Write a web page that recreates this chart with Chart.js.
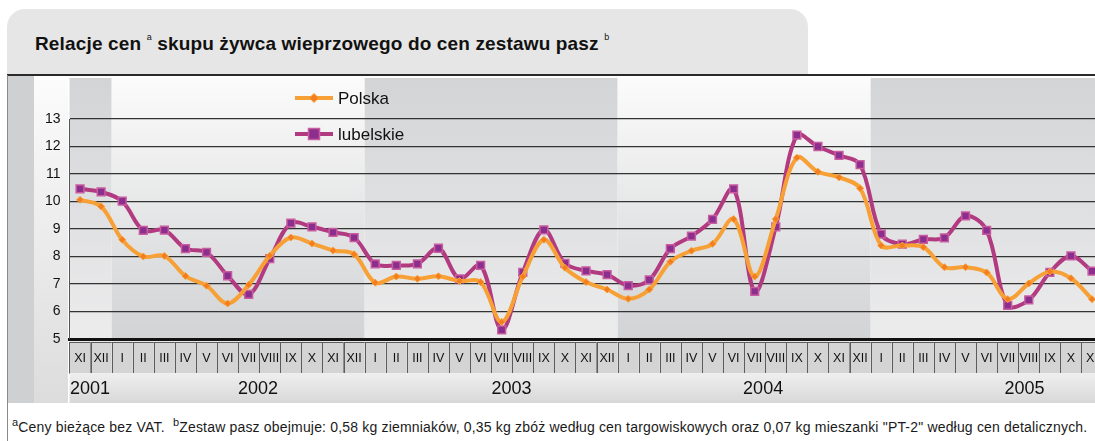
<!DOCTYPE html>
<html><head><meta charset="utf-8">
<script src="https://cdn.jsdelivr.net/npm/chart.js@4.4.0/dist/chart.umd.min.js"></script>
<style>
html,body{margin:0;padding:0;background:#fff;}
body{width:1095px;height:441px;overflow:hidden;position:relative;font-family:Arial,"Liberation Sans",sans-serif;color:#111;}
#titlebox{position:absolute;left:7px;top:9px;width:801px;height:66px;background:#e6e6e6;border-radius:18px 18px 0 0;}
#title{position:absolute;left:35px;top:32px;font-weight:bold;font-size:19px;letter-spacing:0.15px;white-space:nowrap;color:#111;}
#title sup{font-size:9px;font-weight:normal;vertical-align:10px;}
#topline{position:absolute;left:7px;top:74px;width:1100px;height:0;border-top:2px solid #2a2a2a;}
#leftline{position:absolute;left:7px;top:75px;height:366px;border-left:1px solid #8a8a8a;}
#wrap{position:absolute;left:0;top:76px;width:1110px;height:330px;}
#foot{position:absolute;left:12px;top:416px;font-size:14px;letter-spacing:0.18px;white-space:nowrap;color:#1a1a1a;}
#foot sup{font-size:11px;vertical-align:6px;}
</style>
</head><body>
<div id="titlebox"></div>
<div id="title">Relacje cen <sup>a</sup> skupu żywca wieprzowego do cen zestawu pasz <sup>b</sup></div>
<div id="topline"></div>
<div id="leftline"></div>
<div id="wrap"><canvas id="c" width="1110" height="330"></canvas></div>
<div id="foot"><sup>a</sup>Ceny bieżące bez VAT. &nbsp;<sup>b</sup>Zestaw pasz obejmuje: 0,58 kg ziemniaków, 0,35 kg zbóż według cen targowiskowych oraz 0,07 kg mieszanki "PT-2" według cen detalicznych.</div>
<script>
const monthLabels = ['XI','XII',
 'I','II','III','IV','V','VI','VII','VIII','IX','X','XI','XII',
 'I','II','III','IV','V','VI','VII','VIII','IX','X','XI','XII',
 'I','II','III','IV','V','VI','VII','VIII','IX','X','XI','XII',
 'I','II','III','IV','V','VI','VII','VIII','IX','X','XI'];
const yearLabels = ['2001','2002','2003','2004','2005'];
const yearMonthCounts = [2,12,12,12,11];
const polska = [10.06,9.82,8.61,8.00,8.02,7.29,6.94,6.29,6.97,8.03,8.69,8.47,8.22,8.08,
 7.05,7.27,7.19,7.28,7.11,7.07,5.62,7.27,8.61,7.59,7.07,6.80,
 6.46,6.80,7.81,8.21,8.46,9.36,7.27,9.36,11.59,11.08,10.88,10.48,
 8.40,8.40,8.34,7.61,7.61,7.42,6.45,7.02,7.45,7.21,6.45];
const lubelskie = [10.46,10.35,10.01,8.95,8.96,8.29,8.15,7.30,6.62,7.92,9.21,9.08,8.88,8.69,
 7.73,7.68,7.73,8.30,7.19,7.68,5.33,7.42,8.97,7.75,7.48,7.34,
 6.94,7.15,8.29,8.74,9.35,10.46,6.73,9.08,12.41,12.00,11.68,11.34,
 8.81,8.45,8.62,8.68,9.48,8.95,6.22,6.42,7.42,8.02,7.47];
const yTickMin = 5, yTickMax = 13;

Chart.defaults.font.family = 'Arial, "Liberation Sans", sans-serif';
Chart.defaults.color = '#111';

function grad(ctx, y0, y1, c0, c1){
  const g = ctx.createLinearGradient(0,y0,0,y1); g.addColorStop(0,c0); g.addColorStop(1,c1); return g;
}

const backPlugin = {
  id:'back',
  beforeDraw(chart){
    const {ctx, chartArea:a, scales:{x}} = chart;
    const half = (x.getPixelForValue(1)-x.getPixelForValue(0))/2;
    ctx.save();
    ctx.fillStyle = '#cfd0d2'; ctx.fillRect(8,0,26,327);
    ctx.fillStyle = grad(ctx,4,327,'#fbfbfb','#dcdcdd'); ctx.fillRect(34,4,34,323);
    let start = 0;
    yearMonthCounts.forEach((n,i)=>{
      const l = x.getPixelForValue(start)-half, r = x.getPixelForValue(start+n-1)+half + (i===yearMonthCounts.length-1?40:0);
      ctx.fillStyle = (i%2===0) ? grad(ctx,2,a.bottom,'#d3d4d6','#ececed') : grad(ctx,2,a.bottom,'#fbfbfb','#d2d3d5');
      ctx.fillRect(l,2,r-l,a.bottom-2);
      start += n;
    });
    ctx.fillStyle = '#e9e9ea'; ctx.fillRect(a.left, a.bottom, chart.width-a.left, 4);
    const cy0 = 266, cy1 = 297;
    for(let i=0;i<monthLabels.length+1;i++){
      const l = x.getPixelForValue(i)-half;
      ctx.fillStyle = '#d4d4d5'; ctx.fillRect(l, cy0, half*2, cy1-cy0);
      ctx.strokeStyle = '#5c5c5c'; ctx.lineWidth = 1;
      ctx.strokeRect(Math.round(l)+0.5, cy0+0.5, Math.round(half*2), cy1-cy0);
    }
    ctx.fillStyle = grad(ctx,297,327,'#efefef','#d8d8d9');
    ctx.fillRect(a.left, 297, chart.width-a.left, 30);
    ctx.restore();
  },
  afterDraw(chart){
    const {ctx, scales:{x}} = chart;
    const offs = [0.47, 8.44, 20.47, 32.4, 44.8];
    ctx.save();
    ctx.font = '18px Arial, "Liberation Sans", sans-serif';
    ctx.fillStyle = '#111'; ctx.textAlign='center'; ctx.textBaseline='middle';
    yearLabels.forEach((t,i)=>{ ctx.fillText(t, x.getPixelForValue(offs[i]), 313); });
    ctx.restore();
  }
};

const legendPlugin = {
  id:'leg',
  afterDraw(chart){
    const ctx = chart.ctx;
    const rows = [22, 58];
    ctx.save();
    chart.data.datasets.forEach((ds,i)=>{
      const y = rows[i];
      ctx.strokeStyle = ds.borderColor; ctx.lineWidth = ds.borderWidth;
      ctx.beginPath(); ctx.moveTo(295,y); ctx.lineTo(333,y); ctx.stroke();
      ctx.fillStyle = ds.pointBackgroundColor; ctx.strokeStyle = ds.pointBorderColor; ctx.lineWidth = ds.pointBorderWidth;
      ctx.beginPath();
      if(ds.pointStyle==='rect'){ const r=ds.pointRadius; ctx.rect(314-r,y-r,2*r,2*r);} else { const r=ds.pointRadius+1; ctx.moveTo(314,y-r);ctx.lineTo(314+r,y);ctx.lineTo(314,y+r);ctx.lineTo(314-r,y);ctx.closePath(); }
      ctx.fill(); ctx.stroke();
      ctx.fillStyle = '#111'; ctx.font = '17px Arial, "Liberation Sans", sans-serif';
      ctx.textAlign='left'; ctx.textBaseline='middle';
      ctx.fillText(ds.label, 338, y+1);
    });
    ctx.restore();
  }
};

new Chart(document.getElementById('c'), {
  type:'line',
  data:{
    labels: monthLabels,
    datasets:[
      {label:'Polska', data: polska, borderColor:'#f7a036', borderWidth:4, tension:0.35,
       pointStyle:'rectRot', pointRadius:3.5, pointBackgroundColor:'#f47d20', pointBorderColor:'#f7a036', pointBorderWidth:1},
      {label:'lubelskie', data: lubelskie, borderColor:'#b23a80', borderWidth:4, tension:0.35,
       pointStyle:'rect', pointRadius:5.5, pointBackgroundColor:'#8c2e8e', pointBorderColor:'#c85c9f', pointBorderWidth:1.5}
    ]
  },
  options:{
    responsive:false, animation:false, devicePixelRatio:1,
    layout:{padding:{top:43, left:0, right:6.5, bottom:0}},
    plugins:{legend:{display:false}, tooltip:{enabled:false}},
    scales:{
      x:{
        offset:true,
        grid:{display:false, drawTicks:false},
        border:{display:true, color:'#111', width:3},
        ticks:{autoSkip:false, maxRotation:0, minRotation:0, padding:12, font:{size:12.5}, color:'#111'},
        afterFit(ax){ ax.height = 67; }
      },
      y:{
        min:yTickMin, max:yTickMax,
        ticks:{stepSize:1, padding:9, font:{size:14}, color:'#111'},
        grid:{color:'#333', lineWidth:1.2, drawTicks:false},
        border:{display:true, color:'#555', width:1},
        afterFit(ax){ ax.width = 69.5; }
      }
    }
  },
  plugins:[backPlugin, legendPlugin]
});
</script>
</body></html>
